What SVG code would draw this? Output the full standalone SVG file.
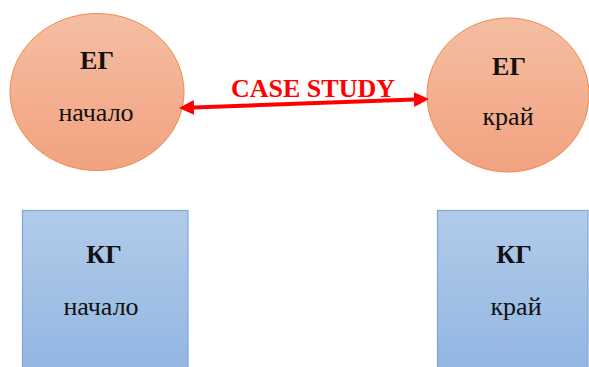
<svg xmlns="http://www.w3.org/2000/svg" width="589" height="367" viewBox="0 0 589 367">
  <style>
    .eg { stroke: #EE8A4F; stroke-width: 1; fill: url(#gOrange); }
    .kg { stroke: #7EA8DC; stroke-width: 1.2; fill: url(#gBlue); }
    text { font-family: "Liberation Serif", "Times New Roman", serif; fill: #111; text-anchor: middle; }
    .title { font-weight: bold; font-size: 26px; }
    .sub { font-size: 26px; }
    .lbl { font-weight: bold; font-size: 26px; fill: #FF0000; }
    .conn { stroke: #FF0000; stroke-width: 4; fill: none; }
  </style>
  <defs>
    <linearGradient id="gOrange" x1="0" y1="0" x2="0" y2="1">
      <stop offset="0" stop-color="#F5BEA2"/>
      <stop offset="1" stop-color="#F2A280"/>
    </linearGradient>
    <linearGradient id="gBlue" x1="0" y1="0" x2="0" y2="1">
      <stop offset="0" stop-color="#B2CBE9"/>
      <stop offset="1" stop-color="#92B6E2"/>
    </linearGradient>
    <marker id="ah" markerUnits="userSpaceOnUse" markerWidth="15" markerHeight="15" viewBox="0 0 14 14" refX="0" refY="7" orient="auto-start-reverse">
      <path d="M0,0 L14,7 L0,14 z" fill="#FF0000"/>
    </marker>
  </defs>

  <g id="eg-start">
    <ellipse class="eg" cx="97" cy="92" rx="87" ry="78.5"/>
    <text class="title" x="97" y="69">ЕГ</text>
    <text class="sub" x="96" y="121">начало</text>
  </g>

  <g id="eg-end">
    <ellipse class="eg" cx="508" cy="95" rx="81" ry="77"/>
    <text class="title" x="509" y="75">ЕГ</text>
    <text class="sub" x="508" y="125">край</text>
  </g>

  <g id="kg-start">
    <rect class="kg" x="22.5" y="210.5" width="165.5" height="160"/>
    <text class="title" x="104" y="263">КГ</text>
    <text class="sub" x="101" y="315">начало</text>
  </g>

  <g id="kg-end">
    <rect class="kg" x="437.5" y="210.5" width="150.5" height="160"/>
    <text class="title" x="514" y="263">КГ</text>
    <text class="sub" x="516" y="315">край</text>
  </g>

  <g id="connectors">
    <line class="conn" x1="194" y1="107.5" x2="414" y2="99.5" marker-start="url(#ah)" marker-end="url(#ah)"/>
    <text class="lbl" x="313" y="97">CASE STUDY</text>
  </g>
</svg>
